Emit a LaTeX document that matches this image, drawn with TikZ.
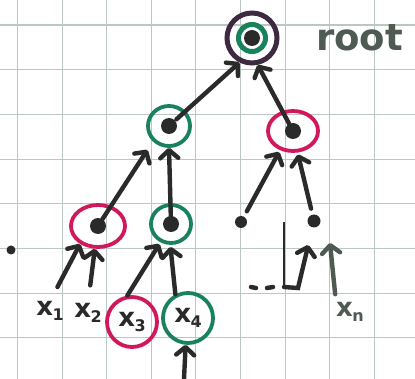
\documentclass[tikz,border=0pt]{standalone}
\usepackage{fontspec}
\setmainfont{DejaVu Sans}
\usetikzlibrary{arrows.meta,shapes.geometric}
\definecolor{ink}{HTML}{2A2A2A}
\definecolor{pnk}{HTML}{D0185C}
\definecolor{grn}{HTML}{17825C}
\definecolor{rootc}{HTML}{3D2A40}
\definecolor{txtc}{HTML}{4E5A52}
\definecolor{gridc}{HTML}{BCC6C2}
\newcommand\xsub[1]{x\kern-0.5pt\raisebox{-5pt}{\fontsize{16}{16}\selectfont #1}}
\begin{document}
\begin{tikzpicture}[x=1pt,y=-1pt,
  gridln/.style={draw=gridc, line width=1.1pt},
  arr/.style={draw=ink, line width=4.4pt, line cap=round,
    -{Straight Barb[length=8pt,width=18pt,line cap=round,round]}},
  ring/.style={ellipse, line width=3.8pt, inner sep=0pt},
  dotn/.style={circle, fill=ink, inner sep=0pt, minimum size=#1},
  lab/.style={font=\bfseries\fontsize{26}{26}\selectfont, text=ink, inner sep=0pt}]
\useasboundingbox (0,0) rectangle (415,379);
\fill[white] (0,0) rectangle (415,379);
% grid paper
\foreach \i in {0,...,8} \draw[gridln] ({17.5+44.6*\i},0) -- ({17.5+44.6*\i},379);
\foreach \j in {0,...,7} \draw[gridln] (0,{25+44.7*\j}) -- (415,{25+44.7*\j});
% root
\node[circle, draw=rootc, line width=5pt, minimum size=50pt, inner sep=0pt] (root) at (252,38) {};
\draw[grn, line width=5pt] (root.center) circle (13.5pt);
\fill[ink] (root.center) circle (8pt);
\node[font=\bfseries\fontsize{37}{37}\selectfont, text=txtc, anchor=west, inner sep=0pt] (roottxt) at (316,38) {root};
% level 1
\node[ring, draw=grn, minimum width=42pt, minimum height=40pt] (l1) at (169,126) {};
\fill[ink] (l1.center) circle (8pt);
\node[ring, draw=pnk, minimum width=50pt, minimum height=40pt] (r1) at (293,131) {};
\fill[ink] (r1.center) circle (8pt);
% level 2
\node[ring, draw=pnk, minimum width=54pt, minimum height=42pt] (a2) at (98,226) {};
\fill[ink] (a2.center) circle (8pt);
\node[ring, draw=grn, minimum width=40pt, minimum height=38pt] (b2) at (171,224) {};
\fill[ink] (b2.center) circle (8pt);
\node[dotn=12pt] (c2) at (241,222) {};
\node[dotn=13pt] (d2) at (314,221) {};
\node[dotn=9pt] (s) at (11,250) {};
% leaves
\node[lab] (x1) at (50,311) {\xsub{1}};
\node[lab] (x2) at (88,313) {\xsub{2}};
\node[lab, circle, draw=pnk, line width=3.8pt, minimum size=50pt] (x3) at (132,322) {\xsub{3}};
\node[lab, circle, draw=grn, line width=3.8pt, minimum size=50pt] (x4) at (188,318) {\xsub{4}};
\node[lab, text=txtc] (xn) at (350,312) {\xsub{n}};
% dots
\draw[ink, line width=4.5pt, line cap=round] (251,287) -- (256,288) (267,288) -- (273,287);
\coordinate (bk1) at (284,222);
\coordinate (bk2) at (284,287);
\coordinate (bk3) at (298,288);
\draw[ink, line width=1.6pt] (bk1) -- (bk2);
% connectors
\draw[arr, shorten <=10pt] (l1.center) -- (root.243);
\draw[arr, shorten <=8pt] (r1.center) -- (root.282);
\draw[arr, shorten <=8pt, shorten >=10pt] (a2.center) -- (l1.224);
\draw[arr, shorten <=2pt] (b2.center) -- (l1.south);
\draw[arr, shorten <=6pt, shorten >=2pt] (c2) -- (r1.236);
\draw[arr, shorten <=6pt, shorten >=2pt] (d2) -- (r1.282);
\draw[arr, shorten <=16pt] (x1.north) -- (a2.225);
\draw[arr, shorten <=18pt] (x2.north) -- (a2.262);
\draw[arr, shorten >=2pt] (x3.100) -- (b2.240);
\draw[arr, shorten >=2pt] (x4.118) -- (b2.268);
\coordinate (x4in) at (184,379);
\draw[arr] (x4in) -- (x4.265);
\draw[arr, shorten >=18pt] (bk2) -- (bk3) -- (d2);
\coordinate (xntop) at (330,243);
\draw[arr, draw=txtc, shorten <=8pt] (xn.north west) -- (xntop);
\end{tikzpicture}
\end{document}
